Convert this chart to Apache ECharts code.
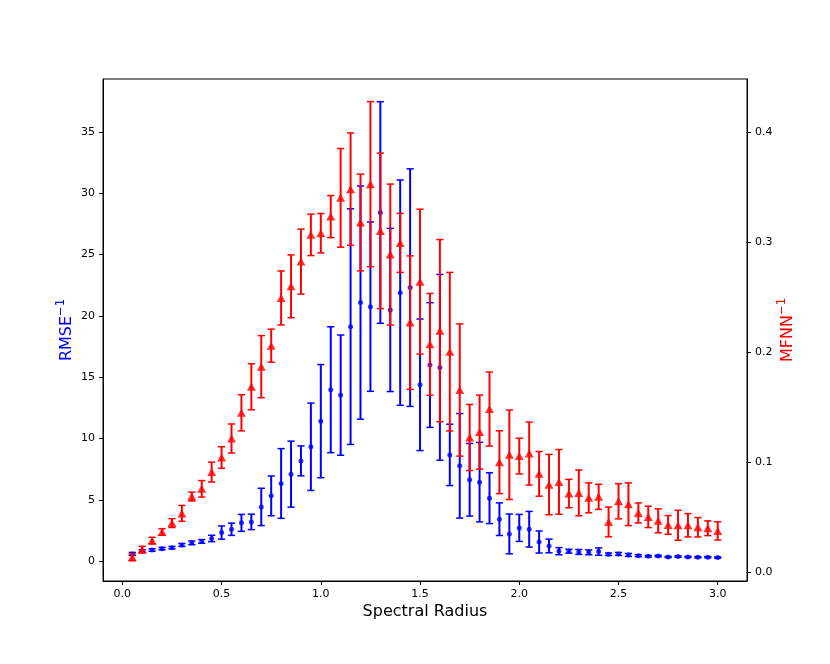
<!DOCTYPE html>
<html>
<head>
<meta charset="utf-8">
<title>Spectral Radius</title>
<script src="https://cdn.jsdelivr.net/npm/echarts@6/dist/echarts.min.js"></script>
<style>
  html, body { margin: 0; padding: 0; background: #fff; }
  #chart { width: 830px; height: 664px; }
</style>
</head>
<body>
<div id="chart"></div>
<script>
// spectral radius values (x axis)
const radius = [
  0.05, 0.1, 0.15, 0.2, 0.25, 0.3, 0.35, 0.4, 0.45, 0.5,
  0.55, 0.6, 0.65, 0.7, 0.75, 0.8, 0.85, 0.9, 0.95, 1.0,
  1.05, 1.1, 1.15, 1.2, 1.25, 1.3, 1.35, 1.4, 1.45, 1.5,
  1.55, 1.6, 1.65, 1.7, 1.75, 1.8, 1.85, 1.9, 1.95, 2.0,
  2.05, 2.1, 2.15, 2.2, 2.25, 2.3, 2.35, 2.4, 2.45, 2.5,
  2.55, 2.6, 2.65, 2.7, 2.75, 2.8, 2.85, 2.9, 2.95, 3.0
];

// RMSE^-1 (left axis)
const rmseMean = [
  0.6, 0.84, 0.92, 1.03, 1.11, 1.33, 1.5, 1.62, 1.86, 2.34,
  2.61, 3.13, 3.21, 4.43, 5.33, 6.34, 7.1, 8.18, 9.33, 11.42,
  13.98, 13.54, 19.12, 21.08, 20.75, 28.42, 20.48, 21.89, 22.3, 14.38,
  15.99, 15.8, 8.67, 7.78, 6.64, 6.45, 5.14, 3.43, 2.23, 2.72,
  2.61, 1.57, 1.25, 0.82, 0.82, 0.76, 0.73, 0.79, 0.57, 0.6,
  0.52, 0.46, 0.41, 0.43, 0.35, 0.38, 0.35, 0.33, 0.33, 0.3
];
const rmseErr = [
  0.12, 0.1, 0.1, 0.1, 0.1, 0.12, 0.15, 0.15, 0.26, 0.54,
  0.5, 0.69, 0.63, 1.52, 1.62, 2.84, 2.69, 1.22, 3.56, 4.61,
  5.13, 4.9, 9.6, 9.5, 6.9, 9.03, 6.65, 9.18, 9.68, 5.36,
  5.08, 7.57, 2.5, 4.26, 2.96, 3.24, 2.07, 1.33, 1.62, 1.1,
  1.45, 0.9, 0.56, 0.29, 0.16, 0.2, 0.2, 0.3, 0.1, 0.12,
  0.12, 0.08, 0.06, 0.06, 0.05, 0.05, 0.05, 0.05, 0.05, 0.05
];

// MFNN^-1 (right axis)
const mfnnMean = [
  0.0136, 0.0206, 0.0288, 0.0366, 0.0447, 0.0535, 0.0688, 0.0758, 0.091, 0.1042,
  0.1215, 0.1448, 0.1685, 0.1867, 0.2058, 0.2491, 0.2597, 0.2821, 0.3064, 0.3079,
  0.323, 0.34, 0.3479, 0.3176, 0.3524, 0.31, 0.2885, 0.2991, 0.2267, 0.2639,
  0.207, 0.2194, 0.2003, 0.1655, 0.1224, 0.1273, 0.1482, 0.1, 0.1067, 0.1055,
  0.1078, 0.0894, 0.0796, 0.0821, 0.0715, 0.0721, 0.0676, 0.0685, 0.0457, 0.0645,
  0.0618, 0.0539, 0.0503, 0.0467, 0.043, 0.0427, 0.0427, 0.0409, 0.04, 0.0376
];
const mfnnErr = [
  0.003, 0.003, 0.003, 0.003, 0.004, 0.0072, 0.004, 0.0075, 0.009, 0.0098,
  0.0132, 0.0164, 0.0209, 0.0282, 0.015, 0.0245, 0.0285, 0.0295, 0.0188, 0.0179,
  0.0191, 0.0448, 0.051, 0.0439, 0.075, 0.0706, 0.064, 0.0268, 0.0606, 0.0658,
  0.0462, 0.0827, 0.072, 0.06, 0.03, 0.0336, 0.0336, 0.0285, 0.0406, 0.0162,
  0.0286, 0.0203, 0.0274, 0.0294, 0.0129, 0.0208, 0.0136, 0.0114, 0.0135, 0.016,
  0.0194, 0.0091, 0.0097, 0.0109, 0.0085, 0.0136, 0.0106, 0.0088, 0.0067, 0.0083
];

// tick labels
const xTicks = [0, 0.5, 1.0, 1.5, 2.0, 2.5, 3.0];
const leftTicks = [0, 5, 10, 15, 20, 25, 30, 35];
const rightTicks = [0, 0.1, 0.2, 0.3, 0.4];

const BLUE = '#0000ff';
const RED = '#ff0000';
const FONT = 'DejaVu Sans';

const chart = echarts.init(document.getElementById('chart'));

// 误差棒：竖线 + 上下横帽
const errorBar = (color) => (params, api) => {
  const x = api.value(0);
  const lo = api.coord([x, api.value(1)]);
  const hi = api.coord([x, api.value(2)]);
  const hw = 3.6;
  const style = { stroke: color, lineWidth: 2 };
  return {
    type: 'group',
    children: [
      { type: 'line', shape: { x1: lo[0], y1: lo[1], x2: hi[0], y2: hi[1] }, style },
      { type: 'line', shape: { x1: lo[0] - hw, y1: lo[1], x2: lo[0] + hw, y2: lo[1] }, style: { stroke: color, lineWidth: 1.5 } },
      { type: 'line', shape: { x1: hi[0] - hw, y1: hi[1], x2: hi[0] + hw, y2: hi[1] }, style: { stroke: color, lineWidth: 1.5 } },
    ],
  };
};

const axisCommon = {
  axisLine: { show: true, onZero: false, lineStyle: { color: '#000', width: 1 } },
  axisTick: { show: true, inside: false, length: 4, lineStyle: { color: '#000' } },
  splitLine: { show: false },
  nameMoveOverlap: false,
};

// 轴标题，上标 -1
const supName = (color) => ({
  fontFamily: FONT,
  rich: {
    a: { fontFamily: FONT, fontSize: 16, color, verticalAlign: 'bottom', lineHeight: 20 },
    b: { fontFamily: FONT, fontSize: 11.5, color, verticalAlign: 'top', lineHeight: 20 },
  },
});

const option = {
  animation: false,
  grid: {
    left: 103, right: 83, top: 79, bottom: 83,
    show: true, borderColor: '#000', borderWidth: 1,
  },
  xAxis: {
    type: 'value',
    min: -0.0975,
    max: 3.1475,
    ...axisCommon,
    axisTick: { ...axisCommon.axisTick, customValues: xTicks },
    axisLabel: {
      customValues: xTicks,
      formatter: (v) => v.toFixed(1),
      color: '#000', fontFamily: FONT, fontSize: 11, margin: 8,
    },
    name: 'Spectral Radius',
    nameLocation: 'middle',
    nameGap: 23,
    nameTextStyle: { fontFamily: FONT, fontSize: 16, color: '#000' },
  },
  yAxis: [
    {
      type: 'value',
      position: 'left',
      min: -1.607,
      max: 39.3,
      ...axisCommon,
      axisTick: { ...axisCommon.axisTick, customValues: leftTicks },
      axisLabel: {
        customValues: leftTicks,
        color: '#000', fontFamily: FONT, fontSize: 11, margin: 8,
      },
      name: '{a|RMSE}{b|−1}',
      nameLocation: 'middle',
      nameRotate: 90,
      nameGap: 28,
      nameTextStyle: supName(BLUE),
    },
    {
      type: 'value',
      position: 'right',
      min: -0.0079,
      max: 0.4479,
      ...axisCommon,
      axisTick: { ...axisCommon.axisTick, customValues: rightTicks },
      axisLabel: {
        customValues: rightTicks,
        formatter: (v) => v.toFixed(1),
        color: '#000', fontFamily: FONT, fontSize: 11, margin: 8,
      },
      name: '{a|MFNN}{b|−1}',
      nameLocation: 'middle',
      nameRotate: 90,
      nameGap: 29,
      nameTextStyle: supName(RED),
    },
  ],
  series: [
    {
      type: 'custom',
      yAxisIndex: 0,
      z: 1,
      renderItem: errorBar(BLUE),
      data: radius.map((x, i) => [x, rmseMean[i] - rmseErr[i], rmseMean[i] + rmseErr[i]]),
    },
    {
      type: 'scatter',
      yAxisIndex: 0,
      z: 2,
      symbol: 'circle',
      symbolSize: 5,
      itemStyle: { color: BLUE },
      data: radius.map((x, i) => [x, rmseMean[i]]),
    },
    {
      type: 'custom',
      yAxisIndex: 1,
      z: 3,
      renderItem: errorBar(RED),
      data: radius.map((x, i) => [x, mfnnMean[i] - mfnnErr[i], mfnnMean[i] + mfnnErr[i]]),
    },
    {
      type: 'scatter',
      yAxisIndex: 1,
      z: 4,
      symbol: 'triangle',
      symbolSize: [9, 8],
      itemStyle: { color: RED },
      data: radius.map((x, i) => [x, mfnnMean[i]]),
    },
  ],
};

chart.setOption(option);
</script>
</body>
</html>
